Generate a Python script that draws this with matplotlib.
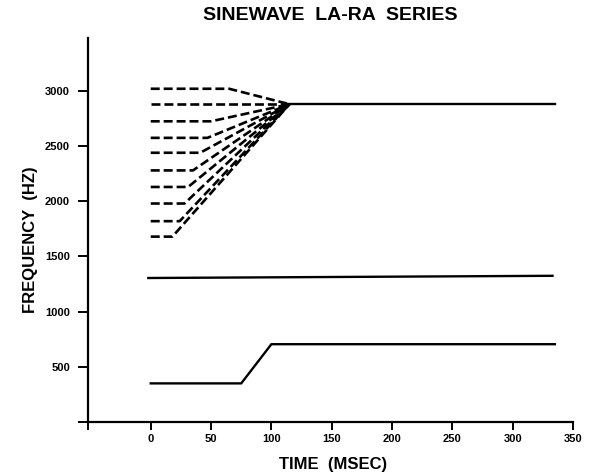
import matplotlib
matplotlib.use("Agg")
import matplotlib.pyplot as plt

plt.rcParams['font.family'] = ['Liberation Sans', 'DejaVu Sans']

# F2 transitions (dashed): start frequency and time the glide begins
f2_start = [3020, 2880, 2725, 2575, 2440, 2280, 2130, 1980, 1820, 1680]
f2_glide_on = [65, 115, 50, 47, 41, 35, 31, 28, 24, 18]
f2_target = 2880
f2_glide_off = 115

# steady F2 after convergence
f2_steady_t = [115, 335]
f2_steady_f = [2880, 2880]

# middle solid line
mid_t = [-2, 333]
mid_f = [1305, 1325]

# F1
f1_t = [0, 75, 100, 335]
f1_f = [350, 350, 705, 705]

xticks = [-52, 0, 50, 100, 150, 200, 250, 300, 350]
xticklabels = ['', '0', '50', '100', '150', '200', '250', '300', '350']
yticks = [0, 500, 1000, 1500, 2000, 2500, 3000]
yticklabels = ['', '500', '1000', '1500', '2000', '2500', '3000']

fig = plt.figure(figsize=(5.9, 4.75), dpi=100)
ax = fig.add_axes([88/590, 1-422/475, 485/590, 384/475])

for f0, t0 in zip(f2_start, f2_glide_on):
    ax.plot([0, t0, f2_glide_off], [f0, f0, f2_target], color='black',
            lw=1.9, dashes=(3.4, 1.5), solid_capstyle='butt')

ax.plot(f2_steady_t, f2_steady_f, color='black', lw=1.7)
ax.plot(mid_t, mid_f, color='black', lw=1.7)
ax.plot(f1_t, f1_f, color='black', lw=1.7)

ax.set_xlim(-52, 350)
ax.set_ylim(0, 3480)
ax.set_xticks(xticks)
ax.set_xticklabels(xticklabels, fontsize=8, fontweight='bold')
ax.set_yticks(yticks)
ax.set_yticklabels(yticklabels, fontsize=8, fontweight='bold')
ax.tick_params(axis='x', direction='out', length=5.5, width=1.4, pad=3)
ax.tick_params(axis='y', direction='out', length=7, width=1.4, pad=6)

ax.spines['top'].set_visible(False)
ax.spines['right'].set_visible(False)
ax.spines['left'].set_linewidth(1.6)
ax.spines['bottom'].set_linewidth(1.6)

ax.set_title('SINEWAVE  LA-RA  SERIES', fontsize=14, fontweight='bold', pad=0,
             y=(422-16)/384, va='center')
ax.set_xlabel('TIME  (MSEC)', fontsize=12, fontweight='bold', va='center')
ax.xaxis.set_label_coords((333-88)/485, (422-465)/384)
ax.set_ylabel('FREQUENCY  (HZ)', fontsize=12, fontweight='bold', va='center')
ax.yaxis.set_label_coords((31-88)/485, (422-240)/384)

fig.savefig('out.png', dpi=100)
